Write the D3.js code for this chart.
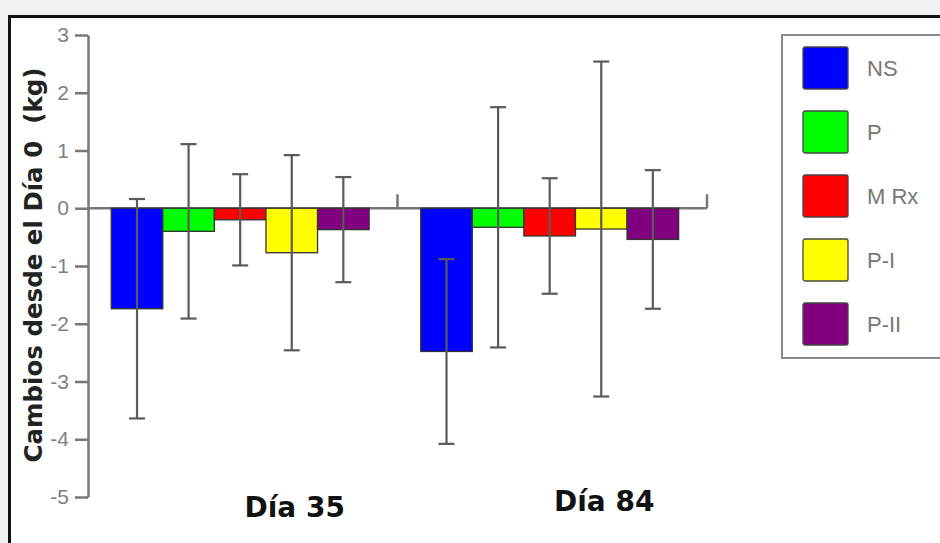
<!DOCTYPE html>
<html>
<head>
<meta charset="utf-8">
<script src="https://cdn.jsdelivr.net/npm/d3@7.9.0/dist/d3.min.js"></script>
<style>
  html, body { margin: 0; padding: 0; background: #f1f1f1; }
  svg { display: block; }
</style>
</head>
<body>
<svg id="chart" width="940" height="543"></svg>
<script>
// data (means and SD in kg)
const days = ['Día 35', 'Día 84'];
const groups = ['NS', 'P', 'M Rx', 'P-I', 'P-II'];
const colors = ['#0000ff', '#00ff00', '#ff0000', '#ffff00', '#800080'];
const meansDia35 = [-1.74, -0.40, -0.20, -0.77, -0.37];
const sdDia35 = [1.90, 1.51, 0.79, 1.69, 0.91];
const meansDia84 = [-2.48, -0.33, -0.48, -0.36, -0.54];
const sdDia84 = [1.60, 2.08, 1.00, 2.90, 1.20];
const yTicks = [-5, -4, -3, -2, -1, 0, 1, 2, 3];

const data = days.map((day, i) => ({
  day: day,
  values: groups.map((g, j) => ({
    group: g,
    color: colors[j],
    mean: i === 0 ? meansDia35[j] : meansDia84[j],
    sd: i === 0 ? sdDia35[j] : sdDia84[j]
  }))
}));

const svg = d3.select('#chart');

// white frame with black border
svg.append('rect')
  .attr('x', 9.5).attr('y', 16.5)
  .attr('width', 960).attr('height', 560)
  .attr('fill', '#fff')
  .attr('stroke', '#111')
  .attr('stroke-width', 3);

const y = d3.scaleLinear().domain([-5, 3]).range([497, 35]);
const x0 = d3.scaleBand().domain(days).range([88, 707]);
const x1 = d3.scaleBand().domain(groups).range([0, x0.bandwidth()])
  .paddingOuter(0.5).paddingInner(0).align(0.45);

const axisColor = '#777';

// y axis (plain hyphen for negatives, like the original)
const yAxis = svg.append('g')
  .attr('transform', 'translate(88,0)')
  .call(d3.axisLeft(y).tickValues(yTicks).tickFormat((d) => String(d))
    .tickSize(13).tickSizeOuter(0).tickPadding(6));
yAxis.select('.domain').attr('stroke', axisColor).attr('stroke-width', 2.5);
yAxis.selectAll('.tick line').attr('stroke', axisColor).attr('stroke-width', 2.5);
yAxis.selectAll('.tick text')
  .attr('fill', '#808080')
  .attr('font-family', 'Liberation Sans, Arial, sans-serif')
  .attr('font-size', 21);

// zero line with group-boundary ticks pointing up
const y0 = y(0);
svg.append('line')
  .attr('x1', x0.range()[0]).attr('x2', x0.range()[1])
  .attr('y1', y0).attr('y2', y0)
  .attr('stroke', axisColor).attr('stroke-width', 2.5);
svg.selectAll('.xtick')
  .data(days)
  .join('line')
  .attr('class', 'xtick')
  .attr('x1', (d) => x0(d) + x0.bandwidth())
  .attr('x2', (d) => x0(d) + x0.bandwidth())
  .attr('y1', y0).attr('y2', y0 - 14)
  .attr('stroke', axisColor).attr('stroke-width', 2.5);

// bars
const dayG = svg.selectAll('.day')
  .data(data)
  .join('g')
  .attr('class', 'day')
  .attr('transform', (d) => `translate(${x0(d.day)},0)`);

dayG.selectAll('rect')
  .data((d) => d.values)
  .join('rect')
  .attr('x', (d) => x1(d.group))
  .attr('width', x1.bandwidth())
  .attr('y', (d) => Math.min(y(d.mean), y0))
  .attr('height', (d) => Math.abs(y(d.mean) - y0))
  .attr('fill', (d) => d.color)
  .attr('stroke', '#333')
  .attr('stroke-width', 1.3);

// error bars
const capW = 16;
const err = dayG.selectAll('.err')
  .data((d) => d.values)
  .join('g')
  .attr('class', 'err')
  .attr('stroke', '#5a5a5a')
  .attr('stroke-width', 2.2);

err.append('line')
  .attr('x1', (d) => x1(d.group) + x1.bandwidth() / 2)
  .attr('x2', (d) => x1(d.group) + x1.bandwidth() / 2)
  .attr('y1', (d) => y(d.mean + d.sd))
  .attr('y2', (d) => y(d.mean - d.sd));
[1, -1].forEach((s) => {
  err.append('line')
    .attr('x1', (d) => x1(d.group) + x1.bandwidth() / 2 - capW / 2)
    .attr('x2', (d) => x1(d.group) + x1.bandwidth() / 2 + capW / 2)
    .attr('y1', (d) => y(d.mean + s * d.sd))
    .attr('y2', (d) => y(d.mean + s * d.sd));
});

// category labels
svg.selectAll('.daylabel')
  .data(days)
  .join('text')
  .attr('class', 'daylabel')
  .attr('x', (d) => x0(d) + x0.bandwidth() / 2 + 52)
  .attr('y', (d, i) => (i === 0 ? 517 : 511))
  .attr('text-anchor', 'middle')
  .attr('font-family', 'DejaVu Sans, Verdana, sans-serif')
  .attr('font-weight', 'bold')
  .attr('font-size', 28)
  .attr('fill', '#111')
  .text((d) => d);

// y axis title
svg.append('text')
  .attr('transform', 'translate(42,265) rotate(-90)')
  .attr('text-anchor', 'middle')
  .attr('font-family', 'DejaVu Sans, Verdana, sans-serif')
  .attr('font-weight', 'bold')
  .attr('font-size', 24.5)
  .attr('fill', '#222')
  .attr('xml:space', 'preserve')
  .text('Cambios desde el Día 0  (kg)');

// legend
const legend = svg.append('g').attr('transform', 'translate(782,35)');
legend.append('rect')
  .attr('width', 220).attr('height', 323)
  .attr('fill', '#fff')
  .attr('stroke', '#888')
  .attr('stroke-width', 2);

const item = legend.selectAll('.item')
  .data(groups)
  .join('g')
  .attr('class', 'item')
  .attr('transform', (d, i) => `translate(21,${12 + i * 64})`);

item.append('rect')
  .attr('width', 45).attr('height', 42)
  .attr('rx', 2)
  .attr('fill', (d, i) => colors[i])
  .attr('stroke', '#444')
  .attr('stroke-width', 1.3);

item.append('text')
  .attr('x', 64).attr('y', 21)
  .attr('dy', '0.36em')
  .attr('font-family', 'Liberation Sans, Arial, sans-serif')
  .attr('font-size', 22)
  .attr('fill', '#777')
  .text((d) => d);
</script>
</body>
</html>
